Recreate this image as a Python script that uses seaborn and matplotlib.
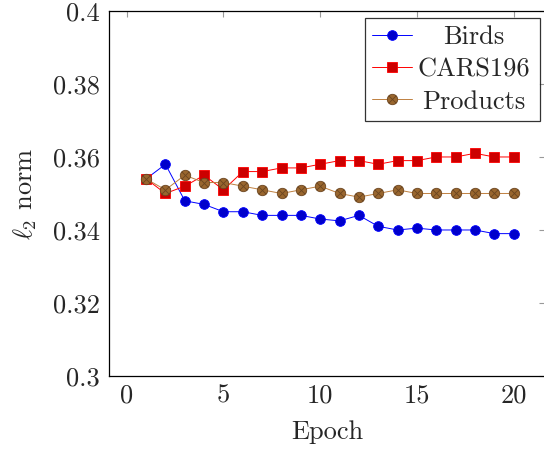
import numpy as np
import pandas as pd
import matplotlib
matplotlib.use("Agg")
import matplotlib.pyplot as plt
from matplotlib.path import Path
from matplotlib.lines import Line2D
from matplotlib.transforms import Affine2D
import seaborn as sns

# data
epochs = list(range(1, 21))
birds = [0.354, 0.358, 0.348, 0.347, 0.345, 0.345, 0.344, 0.344, 0.344, 0.343,
         0.3425, 0.344, 0.341, 0.340, 0.3405, 0.340, 0.340, 0.340, 0.339, 0.339]
cars = [0.354, 0.350, 0.352, 0.355, 0.351, 0.356, 0.356, 0.357, 0.357, 0.358,
        0.359, 0.359, 0.358, 0.359, 0.359, 0.360, 0.360, 0.361, 0.360, 0.360]
products = [0.354, 0.351, 0.355, 0.353, 0.353, 0.352, 0.351, 0.350, 0.351, 0.352,
            0.350, 0.349, 0.350, 0.351, 0.350, 0.350, 0.350, 0.350, 0.350, 0.350]
series_names = ["Birds", "CARS196", "Products"]
x_ticks = [0, 5, 10, 15, 20]
y_ticks = [0.30, 0.32, 0.34, 0.36, 0.38, 0.40]
y_tick_labels = ["0.3", "0.32", "0.34", "0.36", "0.38", "0.4"]

sns.set_style("white")
plt.rcParams["font.family"] = ["cmr10", "DejaVu Serif"]
plt.rcParams["mathtext.fontset"] = "cm"
plt.rcParams["axes.formatter.use_mathtext"] = True

# circle with a cross (pgfplots otimes*)
circ = Path.unit_circle()
d = 0.7071
cross = Path([(-d, -d), (d, d), (-d, d), (d, -d)],
             [Path.MOVETO, Path.LINETO, Path.MOVETO, Path.LINETO])
otimes = Path.make_compound_path(circ, cross)

styles = {
    "Birds": dict(color="#0000ff", marker="o", mfc="#0000cc", mec="#0000ff", ms=7),
    "CARS196": dict(color="#ff0000", marker="s", mfc="#cc0000", mec="#ff0000", ms=7),
    "Products": dict(color="#bf8040", marker=otimes, mfc="#99662e", mec="#6b4520", ms=7.5),
}

df = pd.DataFrame({"Epoch": epochs * 3,
                   "value": birds + cars + products,
                   "series": sum([[n] * len(epochs) for n in series_names], [])})

fig = plt.figure(figsize=(5.44, 4.49), dpi=100)
ax = fig.add_axes([0.201, 0.1626, 0.8015, 0.813])

handles = []
for name in series_names:
    st = styles[name]
    sns.lineplot(data=df[df["series"] == name], x="Epoch", y="value", ax=ax,
                 color=st["color"], marker=st["marker"], markersize=st["ms"],
                 markerfacecolor=st["mfc"], markeredgecolor=st["mec"],
                 markeredgewidth=0.6, linewidth=0.7, legend=False)
    handles.append(Line2D([], [], color=st["color"], marker=st["marker"],
                          markersize=st["ms"], markerfacecolor=st["mfc"],
                          markeredgecolor=st["mec"], markeredgewidth=0.6,
                          linewidth=0.7, label=name))

ax.set_xlim(-0.9, 21.64)
ax.set_ylim(0.3, 0.4)
ax.set_xticks(x_ticks)
ax.set_xticklabels([str(t) for t in x_ticks])
ax.set_yticks(y_ticks)
ax.set_yticklabels(y_tick_labels)
ax.tick_params(direction="in", length=4, width=0.8, color="#999999",
               top=True, right=True, labelsize=19)
ax.tick_params(axis="y", pad=7)
ax.tick_params(axis="x", pad=5.5)
for sp in ax.spines.values():
    sp.set_color("black")
    sp.set_linewidth(0.9)

ax.set_xlabel("Epoch", fontsize=19, labelpad=9.5)
ax.set_ylabel(r"$\ell_2$ norm", fontsize=19, labelpad=10)

leg_top = 1 - 18.3 / 449
leg = ax.legend(handles=handles, loc="upper left", mode="expand",
                bbox_to_anchor=(365 / 544, leg_top - 0.2, 175 / 544, 0.2),
                bbox_transform=fig.transFigure, fontsize=19,
                frameon=True, fancybox=False, edgecolor="black",
                borderaxespad=0, handlelength=1.5, handletextpad=0.22,
                labelspacing=0.32, borderpad=0.27)
leg.get_frame().set_linewidth(0.9)

# centre legend labels like the pgfplots legend
fig.canvas.draw()
r = fig.canvas.get_renderer()
texts = leg.get_texts()
widths = [t.get_window_extent(r).width for t in texts]
wmax = max(widths)
for t, w in zip(texts, widths):
    t.set_transform(t.get_transform() + Affine2D().translate((wmax - w) / 2, 0))

fig.savefig("out.png", dpi=100)
